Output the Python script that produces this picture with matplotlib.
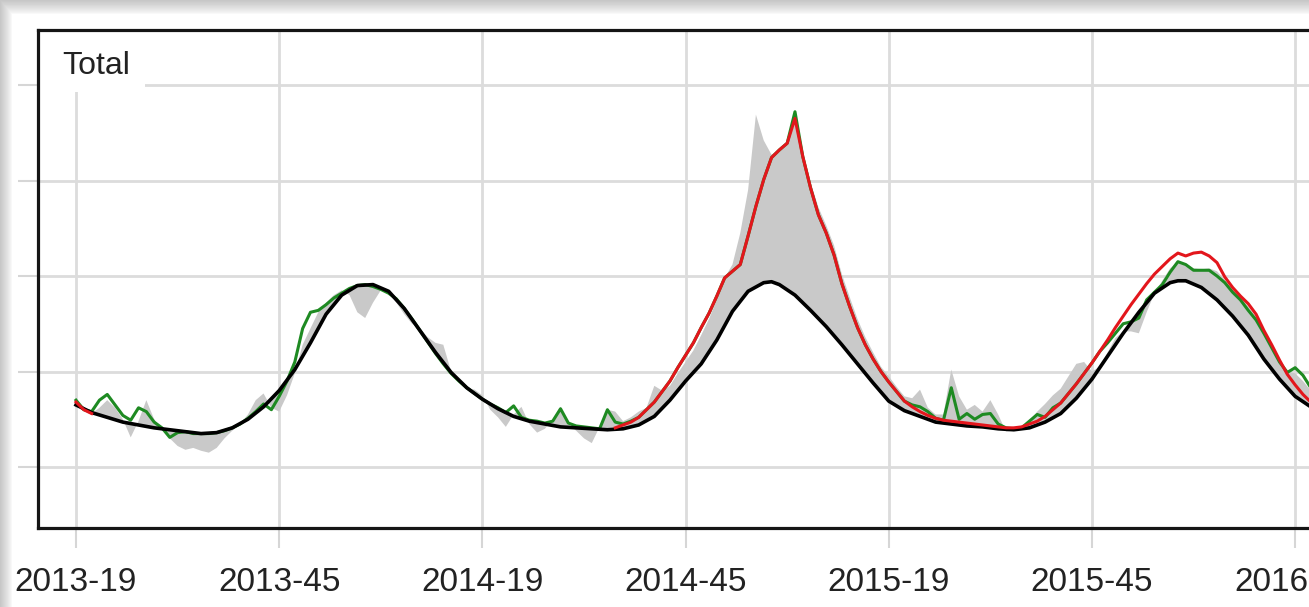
import numpy as np
import matplotlib
matplotlib.use("Agg")
import matplotlib.pyplot as plt
from matplotlib.patches import Rectangle

plt.rcParams['font.family'] = ['Liberation Sans', 'DejaVu Sans']

## Data (week index 0 = 2013-19) ##
tick_weeks = [0, 26, 52, 78, 104, 130, 156]
tick_labels = ["2013-19", "2013-45", "2014-19", "2014-45", "2015-19", "2015-45", "2016-19"]
panel_title = "Total"

# baseline (black)
baseline_week = [0, 2, 4, 6, 8, 10, 12, 14, 16, 18, 20, 22, 24, 26, 28, 30, 32, 34, 36, 38,
                 40, 42, 44, 46, 48, 50, 52, 54, 56, 58, 60, 62, 64, 66, 68, 70, 72, 74, 76, 78,
                 80, 82, 84, 86, 88, 89, 90, 92, 94, 96, 98, 100, 102, 104, 106, 108, 110,
                 112, 114, 116, 118, 120, 122, 124, 126, 128, 130, 132, 134, 136, 138, 140,
                 141, 142, 144, 146, 148, 150, 152, 154, 156, 158]
baseline = [1.65, 1.57, 1.52, 1.47, 1.44, 1.41, 1.39, 1.37, 1.35, 1.36,
            1.41, 1.50, 1.63, 1.80, 2.02, 2.30, 2.60, 2.80, 2.90, 2.91,
            2.84, 2.66, 2.43, 2.20, 1.99, 1.83, 1.71, 1.61, 1.53, 1.48,
            1.45, 1.42, 1.41, 1.40, 1.39, 1.40, 1.44, 1.53, 1.70, 1.90,
            2.08, 2.33, 2.63, 2.84, 2.93, 2.94, 2.91,
            2.80, 2.64, 2.47, 2.28, 2.08, 1.88, 1.69, 1.59, 1.53, 1.47,
            1.45, 1.43, 1.42, 1.40, 1.39, 1.41, 1.47, 1.56, 1.72, 1.92,
            2.16, 2.40, 2.62, 2.82, 2.93, 2.95, 2.95,
            2.88, 2.75, 2.58, 2.38, 2.13, 1.92, 1.74, 1.63]

# observed (green), weekly
observed = [1.70, 1.60, 1.58, 1.70, 1.76, 1.65, 1.54, 1.49, 1.62, 1.58,
            1.47, 1.41, 1.31, 1.36, 1.37, 1.35, 1.35, 1.35, 1.36, 1.38,
            1.41, 1.45, 1.51, 1.58, 1.66, 1.60, 1.74, 1.90, 2.10, 2.45,
            2.62, 2.64, 2.70, 2.77, 2.82, 2.87, 2.90, 2.91, 2.89, 2.86,
            2.82, 2.76, 2.66, 2.55, 2.43, 2.31, 2.19, 2.08, 1.98, 1.90,
            1.83, 1.77, 1.71, 1.66, 1.62, 1.57, 1.64, 1.52, 1.49, 1.48,
            1.46, 1.48, 1.61, 1.46, 1.43, 1.42, 1.41, 1.40, 1.60, 1.47,
            1.45, 1.48, 1.52, 1.60, 1.68, 1.79, 1.90, 2.04, 2.17, 2.30,
            2.46, 2.61, 2.79, 2.98, 3.05, 3.12, 3.42, 3.73, 4.01, 4.24,
            4.32, 4.39, 4.72, 4.25, 3.92, 3.64, 3.45, 3.22, 2.92, 2.68,
            2.46, 2.28, 2.13, 2.00, 1.89, 1.79, 1.69, 1.65, 1.63, 1.58,
            1.51, 1.49, 1.83, 1.50, 1.56, 1.50, 1.55, 1.56, 1.45, 1.41,
            1.40, 1.41, 1.48, 1.55, 1.52, 1.62, 1.67, 1.77, 1.87, 1.98,
            2.09, 2.21, 2.30, 2.40, 2.50, 2.52, 2.56, 2.75, 2.83, 2.91,
            3.04, 3.15, 3.12, 3.06, 3.06, 3.06, 3.00, 2.93, 2.83, 2.75,
            2.64, 2.54, 2.40, 2.25, 2.10, 1.99, 2.04, 1.96, 1.83]

# corrected (red): weeks 0-2 and 69-158
corrected_head = [1.68, 1.60, 1.56]
corrected_tail = [1.41, 1.44, 1.47, 1.52, 1.60, 1.68, 1.79, 1.90, 2.04, 2.17, 2.30,
                  2.46, 2.61, 2.79, 2.98, 3.05, 3.12, 3.42, 3.73, 4.01, 4.24,
                  4.32, 4.39, 4.65, 4.25, 3.92, 3.64, 3.45, 3.22, 2.92, 2.68,
                  2.46, 2.28, 2.13, 2.00, 1.89, 1.79, 1.69, 1.63, 1.58, 1.54,
                  1.51, 1.49, 1.48, 1.47, 1.46, 1.45, 1.44, 1.43, 1.42, 1.41,
                  1.41, 1.42, 1.45, 1.48, 1.53, 1.60, 1.67, 1.77, 1.87, 1.98,
                  2.09, 2.21, 2.33, 2.46, 2.58, 2.70, 2.81, 2.92, 3.02, 3.10,
                  3.18, 3.24, 3.21, 3.24, 3.25, 3.21, 3.14, 2.99, 2.88, 2.79,
                  2.71, 2.60, 2.43, 2.28, 2.12, 1.97, 1.86, 1.76, 1.68]
corrected = corrected_head + [np.nan] * 66 + corrected_tail

# grey band edge (filled against baseline)
band = [1.68, 1.62, 1.56, 1.62, 1.70, 1.62, 1.50, 1.31, 1.48, 1.70,
        1.50, 1.40, 1.30, 1.22, 1.18, 1.20, 1.17, 1.15, 1.20, 1.30,
        1.38, 1.45, 1.55, 1.70, 1.77, 1.62, 1.58, 1.75, 1.98, 2.28,
        2.45, 2.62, 2.72, 2.80, 2.85, 2.80, 2.62, 2.56, 2.72, 2.85,
        2.84, 2.72, 2.60, 2.50, 2.45, 2.36, 2.30, 2.28, 2.00, 1.90,
        1.82, 1.81, 1.75, 1.60, 1.52, 1.42, 1.55, 1.63, 1.45, 1.36,
        1.40, 1.50, 1.63, 1.45, 1.38, 1.30, 1.25, 1.42, 1.60, 1.58,
        1.48, 1.52, 1.58, 1.62, 1.85, 1.80, 1.85, 1.98, 2.10, 2.22,
        2.38, 2.55, 2.75, 2.98, 3.12, 3.45, 3.90, 4.69, 4.42, 4.27,
        4.32, 4.39, 4.60, 4.30, 3.98, 3.72, 3.53, 3.32, 3.02, 2.78,
        2.55, 2.36, 2.20, 2.05, 1.95, 1.84, 1.74, 1.72, 1.81, 1.62,
        1.55, 1.55, 2.02, 1.74, 1.60, 1.65, 1.58, 1.70, 1.55, 1.37,
        1.38, 1.42, 1.48, 1.58, 1.66, 1.75, 1.82, 1.95, 2.08, 2.10,
        2.00, 2.05, 2.20, 2.35, 2.42, 2.42, 2.40, 2.62, 2.82, 2.95,
        3.08, 3.15, 3.13, 3.08, 3.07, 3.08, 3.05, 2.96, 2.86, 2.78,
        2.68, 2.57, 2.42, 2.27, 2.12, 2.00, 1.98, 1.90, 1.80]

weeks = np.arange(len(observed))

## Figure ##
W, H, DPI = 1309, 607, 100
fig = plt.figure(figsize=(W / DPI, H / DPI), dpi=DPI)

# screenshot shadow on the left / top edge
bg = fig.add_axes([0, 0, 1, 1], zorder=-10)
sx = np.clip((12 - np.arange(W)) / 12.0, 0, 1)
sy = np.clip((14 - np.arange(H)) / 14.0, 0, 1)
shade = np.maximum(sx[None, :], sy[:, None])
bg.imshow(1 - 0.22 * shade ** 0.8, cmap='gray', vmin=0, vmax=1, aspect='auto')
bg.axis('off')

# axes placed so 2013-19 sits at x=76px, frame right edge runs off the picture
px_week = 7.815
left_px, top_px, bottom_px = 38, 30, 528
xmin = (left_px - 76) / px_week
xmax = 165
ax_w = (xmax - xmin) * px_week
ax = fig.add_axes([left_px / W, (H - bottom_px) / H, ax_w / W, (bottom_px - top_px) / H])
ax.set_xlim(xmin, xmax)
ax.set_ylim(1 - (bottom_px - 467) / 95.5, 1 + (467 - top_px) / 95.5)

ax.set_xticks(tick_weeks)
ax.set_xticklabels(tick_labels)
ax.set_yticks([1, 2, 3, 4, 5])
ax.set_yticklabels([])
ax.grid(True, color='#dcdcdc', linewidth=2.0)
ax.set_axisbelow(True)
ax.tick_params(axis='both', length=14.5, width=1.5, color='#d6d6d6', direction='out')
ax.tick_params(axis='x', pad=13.5, labelsize=24, labelcolor='#222222')
for s in ax.spines.values():
    s.set_linewidth(2.3)
    s.set_color('#151515')
ax.spines['right'].set_visible(False)  # lies outside the crop anyway

# series
ax.fill(np.concatenate([weeks, baseline_week[::-1]]),
        np.concatenate([band, baseline[::-1]]),
        color='#c9c9c9', linewidth=0, zorder=2)
ax.plot(weeks, observed, color='#1e8a22', linewidth=2.2, zorder=3)
ax.plot(baseline_week, baseline, color='black', linewidth=2.6, zorder=4)
ax.plot(weeks, corrected, color='#e3161c', linewidth=2.2, zorder=5)

# panel label
ax.add_patch(Rectangle((0, (bottom_px - 92) / (bottom_px - top_px)), (145 - left_px) / ax_w, 0.2,
                       transform=ax.transAxes, facecolor='white', edgecolor='none', zorder=1.5))
ax.text((62 - left_px) / ax_w, (bottom_px - 66) / (bottom_px - top_px), panel_title,
        transform=ax.transAxes, fontsize=23, va='center', ha='left', color='#222222', zorder=6)

fig.savefig("out.png", dpi=DPI)
